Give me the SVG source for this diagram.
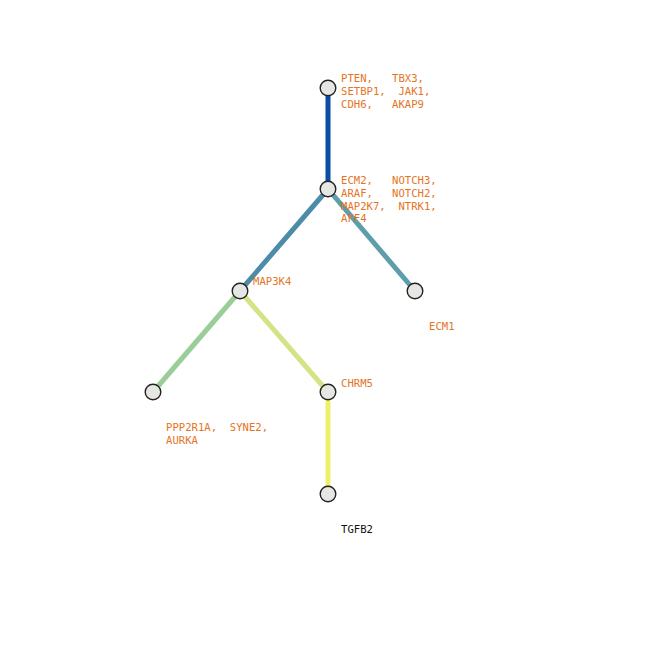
<svg xmlns="http://www.w3.org/2000/svg" width="648" height="648" viewBox="0 0 648 648">
<style>
.e{fill:none;stroke-width:5;stroke-linecap:butt}
.n{fill:#e6e6e2;stroke:#222;stroke-width:1.4}
.t{font-family:"DejaVu Sans Mono","Liberation Mono",monospace;font-size:10.6px;fill:#e5741f;white-space:pre}
.k{fill:#111}
</style>
<rect width="648" height="648" fill="#fff"/>
<g id="edges">
<line class="e" x1="328" y1="88" x2="328" y2="189" stroke="#0b4da2"/>
<line class="e" x1="328" y1="189" x2="240" y2="291" stroke="#4c8ca8"/>
<line class="e" x1="328" y1="189" x2="415" y2="291" stroke="#5c9eaa"/>
<line class="e" x1="240" y1="291" x2="153" y2="392" stroke="#9bcd99"/>
<line class="e" x1="240" y1="291" x2="328" y2="392" stroke="#d3e486"/>
<line class="e" x1="328" y1="392" x2="328" y2="494" stroke="#eef06c"/>
</g>
<g id="n1"><circle class="n" cx="328" cy="88" r="7.8"/>
<text class="t" x="341" y="82" xml:space="preserve">PTEN,   TBX3,</text>
<text class="t" x="341" y="95" xml:space="preserve">SETBP1,  JAK1,</text>
<text class="t" x="341" y="108" xml:space="preserve">CDH6,   AKAP9</text></g>
<g id="n2"><circle class="n" cx="328" cy="189" r="7.8"/>
<text class="t" x="341" y="184" xml:space="preserve">ECM2,   NOTCH3,</text>
<text class="t" x="341" y="197" xml:space="preserve">ARAF,   NOTCH2,</text>
<text class="t" x="341" y="210" xml:space="preserve">MAP2K7,  NTRK1,</text>
<text class="t" x="341" y="222" xml:space="preserve">AFF4</text></g>
<g id="n3"><circle class="n" cx="240" cy="291" r="7.8"/>
<text class="t" x="253" y="285">MAP3K4</text></g>
<g id="n4"><circle class="n" cx="415" cy="291" r="7.8"/>
<text class="t" x="429" y="330">ECM1</text></g>
<g id="n5"><circle class="n" cx="153" cy="392" r="7.8"/>
<text class="t" x="166" y="431" xml:space="preserve">PPP2R1A,  SYNE2,</text>
<text class="t" x="166" y="444">AURKA</text></g>
<g id="n6"><circle class="n" cx="328" cy="392" r="7.8"/>
<text class="t" x="341" y="387">CHRM5</text></g>
<g id="n7"><circle class="n" cx="328" cy="494" r="7.8"/>
<text class="t k" x="341" y="533">TGFB2</text></g>
</svg>
